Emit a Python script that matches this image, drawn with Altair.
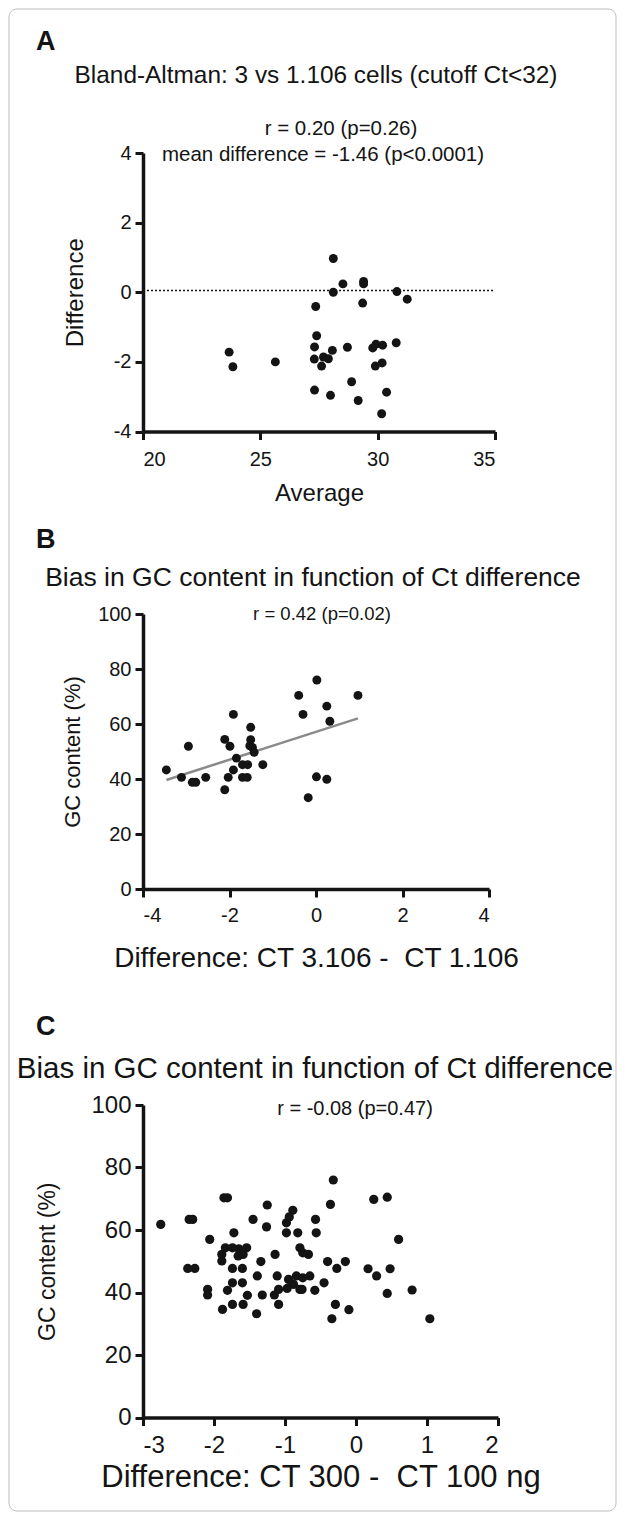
import altair as alt
import pandas as pd

FONT = "Liberation Sans"
INK = "#141414"

# ---------------- Panel A data (Bland-Altman) ----------------
a_avg = [28.11, 28.52, 29.40, 29.40, 28.11, 30.82, 31.26, 27.36, 29.36, 27.40,
         27.31, 28.07, 28.71, 29.79, 29.93, 30.21, 30.79, 27.30, 27.69, 27.90,
         27.61, 29.90, 30.19, 23.67, 23.83, 25.64, 27.31, 27.99, 28.89, 29.17,
         30.38, 30.17]
a_diff = [0.97, 0.24, 0.31, 0.24, 0.00, 0.02, -0.20, -0.41, -0.31, -1.25,
          -1.57, -1.67, -1.58, -1.60, -1.49, -1.52, -1.45, -1.92, -1.86, -1.91,
          -2.12, -2.12, -2.03, -1.72, -2.14, -2.00, -2.81, -2.96, -2.57, -3.11,
          -2.87, -3.49]
a_ref_x = [20, 35]
a_ref_y = [0.05, 0.05]

# ---------------- Panel B data ----------------
b_diff = [-3.46, -3.11, -2.95, -2.86, -2.78, -2.55, -2.11, -2.11, -1.99, -1.91,
          -2.03, -1.91, -1.84, -1.70, -1.58, -1.70, -1.59, -1.51, -1.51, -1.53,
          -1.47, -1.43, -1.23, -0.40, -0.30, 0.02, 0.25, 0.32, 0.97, 0.01,
          0.25, -0.18]
b_gc = [43.3, 40.6, 51.9, 38.8, 38.8, 40.6, 36.1, 54.4, 51.9, 63.5,
        40.6, 43.3, 47.6, 45.2, 45.2, 40.6, 40.6, 58.8, 54.3, 52.1,
        51.5, 49.7, 45.2, 70.4, 63.5, 76.0, 66.5, 61.0, 70.4, 40.8,
        39.9, 33.2]

# ---------------- Panel C data ----------------
c_diff = [-2.75, -2.35, -2.30, -1.86, -1.81, -2.37, -2.27, -2.09, -2.09, -2.06,
          -1.72, -1.89, -1.89, -1.84, -1.74, -1.65, -1.54, -1.66, -1.59, -1.74,
          -1.60, -1.74, -1.60, -1.81, -1.88, -1.74, -1.59, -1.53, -1.40, -1.39,
          -1.34, -1.45, -1.25, -1.26, -1.32, -1.14, -1.11, -1.15, -1.09, -1.09,
          -0.97, -0.88, -0.79, -0.84, -0.75, -0.95, -0.98, -0.98, -0.94, -0.89,
          -0.82, -0.79, -0.75, -0.67, -0.65, -0.58, -0.57, -0.56, -0.45, -0.40,
          -0.36, -0.32, -0.27, -0.29, -0.34, -0.76, -0.15, -0.10, 0.25, 0.44,
          0.60, 0.17, 0.29, 0.48, 0.44, 0.79, 1.04]
c_gc = [61.8, 63.4, 63.4, 70.3, 70.3, 47.7, 47.7, 41.0, 39.2, 57.0,
        59.1, 52.2, 50.1, 54.3, 54.3, 54.0, 54.3, 51.7, 52.2, 47.7,
        47.7, 43.1, 43.1, 40.7, 34.6, 36.2, 36.2, 39.1, 33.2, 45.3,
        49.9, 63.4, 68.0, 61.0, 39.2, 52.2, 45.3, 39.2, 36.2, 41.0,
        41.3, 42.6, 41.0, 45.3, 44.7, 44.2, 59.1, 62.3, 64.2, 66.3,
        59.1, 54.3, 52.7, 52.2, 45.3, 40.7, 63.4, 59.1, 43.1, 49.9,
        68.2, 76.0, 47.7, 36.2, 31.6, 41.0, 49.9, 34.5, 69.8, 70.5,
        57.0, 47.6, 45.3, 47.6, 39.7, 40.8, 31.6]

ONE = pd.DataFrame({"k": [0]})
NB = "\u00a0"


def ax(**kw):
    return alt.Axis(domainColor=INK, domainWidth=3.5, tickColor=INK, tickWidth=3,
                    tickSize=8, labelColor=INK, titleColor=INK, labelFont=FONT,
                    titleFont=FONT, titleFontWeight="normal", grid=False,
                    labelExpr="'' + datum.value", **kw)


def txt(s, x, y, size, weight="normal", align="center"):
    return alt.Chart(ONE).mark_text(font=FONT, fontSize=size, fontWeight=weight,
                                    align=align, baseline="alphabetic",
                                    color=INK).encode(
        x=alt.value(x), y=alt.value(y), text=alt.value(s))


# ---------------- Panel A ----------------
dfA = pd.DataFrame({"avg": a_avg, "diff": a_diff})
refA = pd.DataFrame({"avg": a_ref_x, "diff": a_ref_y})
xA = alt.X("avg:Q", scale=alt.Scale(domain=[20, 35], nice=False, zero=False),
           axis=ax(values=[20, 25, 30, 35], title="Average", labelFontSize=20,
                   titleFontSize=24, labelPadding=10, titlePadding=12))
yA = alt.Y("diff:Q", scale=alt.Scale(domain=[-4, 4], nice=False),
           axis=ax(values=[-4, -2, 0, 2, 4], title="Difference", labelFontSize=20,
                   titleFontSize=24, labelPadding=4, titlePadding=26))
frame = alt.Chart(ONE).mark_rect(fillOpacity=0, stroke="#bdbdbd", strokeWidth=1,
                                 cornerRadius=8).encode(
    x=alt.value(-134), x2=alt.value(473), y=alt.value(-144), y2=alt.value(1358))
ptsA = alt.Chart(dfA).mark_circle(size=80, color=INK, opacity=1).encode(x=xA, y=yA)
lineA = alt.Chart(refA).mark_line(color=INK, strokeWidth=1.5, strokeDash=[2, 2]).encode(
    x="avg:Q", y="diff:Q")
panelA = alt.layer(
    frame, lineA, ptsA,
    txt("A", -107, -103, 27, weight="bold", align="left"),
    txt("Bland-Altman: 3 vs 1.106 cells (cutoff Ct<32)", 173, -70, 24.4),
    txt("r = 0.20 (p=0.26)", 198, -18, 20.5),
    txt("mean difference = -1.46 (p<0.0001)", 180, 8, 20.5),
).properties(width=352, height=278.5)

# ---------------- Panel B ----------------
dfB = pd.DataFrame({"d": b_diff, "gc": b_gc})
xB = alt.X("d:Q", scale=alt.Scale(domain=[-4, 4], nice=False),
           axis=ax(values=[-4, -2, 0, 2, 4],
                   title="Difference: CT 3.106 -" + NB + " CT 1.106",
                   labelFontSize=20, titleFontSize=28, labelPadding=8, titlePadding=19))
yB = alt.Y("gc:Q", scale=alt.Scale(domain=[0, 100], nice=False),
           axis=ax(values=[0, 20, 40, 60, 80, 100], title="GC content (%)",
                   labelFontSize=20, titleFontSize=22, labelPadding=4, titlePadding=13))
ptsB = alt.Chart(dfB).mark_circle(size=80, color=INK, opacity=1).encode(x=xB, y=yB)
regB = alt.Chart(dfB).transform_regression("d", "gc").mark_line(
    color="#8a8a8a", strokeWidth=2.5).encode(x="d:Q", y="gc:Q")
panelB = alt.layer(
    regB, ptsB,
    txt("B", -107, -66, 27, weight="bold", align="left"),
    txt("Bias in GC content in function of Ct difference", 170, -28, 26.5),
    txt("r = 0.42 (p=0.02)", 179, 6, 18.5),
).properties(width=346, height=275)

# ---------------- Panel C ----------------
dfC = pd.DataFrame({"d": c_diff, "gc": c_gc})
xC = alt.X("d:Q", scale=alt.Scale(domain=[-3, 2], nice=False),
           axis=ax(values=[-3, -2, -1, 0, 1, 2],
                   title="Difference: CT 300 -" + NB + " CT 100 ng",
                   labelFontSize=24, titleFontSize=31, labelPadding=8, titlePadding=5))
yC = alt.Y("gc:Q", scale=alt.Scale(domain=[0, 100], nice=False),
           axis=ax(values=[0, 20, 40, 60, 80, 100], title="GC content (%)",
                   labelFontSize=24, titleFontSize=23, labelPadding=4, titlePadding=31))
ptsC = alt.Chart(dfC).mark_circle(size=85, color=INK, opacity=1).encode(x=xC, y=yC)
panelC = alt.layer(
    ptsC,
    txt("C", -107, -70, 27, weight="bold", align="left"),
    txt("Bias in GC content in function of Ct difference", 172, -27, 29.5),
    txt("r = -0.08 (p=0.47)", 212, 10, 20),
).properties(width=355, height=312.5)


def spacer(h):
    return alt.Chart(ONE).mark_point(opacity=0).encode(
        x=alt.value(0), y=alt.value(0)).properties(width=10, height=h)


chart = alt.vconcat(panelA, spacer(181.5), panelB, spacer(215.5), panelC,
                    spacing=0, bounds="flush").properties(
    padding=0, background="white"
).configure_view(stroke=None)

chart.save("out.html", embed_options={"renderer": "svg", "actions": False})
